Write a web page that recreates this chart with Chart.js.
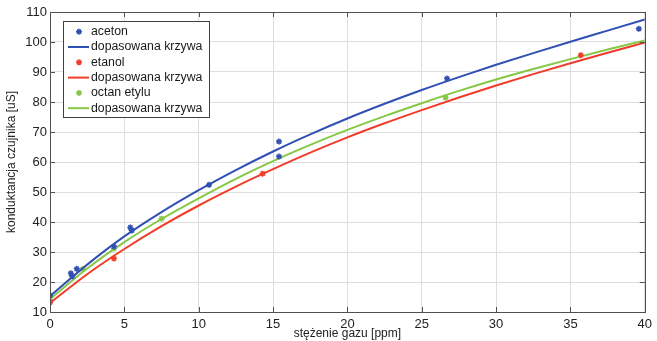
<!DOCTYPE html>
<html>
<head>
<meta charset="utf-8">
<script src="https://cdn.jsdelivr.net/npm/chart.js@4/dist/chart.umd.min.js"></script>
<style>
  body { margin: 0; background: #fff; }
  #wrap { width: 657px; height: 341px; }
</style>
</head>
<body>
<div id="wrap"><canvas id="myChart" width="657" height="341"></canvas></div>
<script>
// measured points
const acetonX = [0, 1.4, 1.5, 1.8, 4.3, 5.4, 5.5, 10.7, 15.4, 15.4, 26.7, 39.6];
const acetonY = [15.5, 22.9, 21.9, 24.4, 31.8, 38.2, 37.2, 52.4, 66.8, 61.8, 87.8, 104.4];
const etanolX = [0, 4.3, 14.3, 35.7];
const etanolY = [13.2, 27.8, 56.1, 95.6];
const octanX = [0, 2.2, 4.3, 7.5, 26.6];
const octanY = [14.0, 24.3, 31.2, 41.1, 81.5];

// fitted curves
const fitX = [0, 2.5, 5, 7.5, 10, 12.5, 15, 17.5, 20, 22.5, 25, 27.5, 30, 32.5, 35, 37.5, 40];
const fitAceton = [15.3, 25.8, 35.2, 43.3, 50.6, 57.3, 63.5, 69.2, 74.5, 79.4, 84.0, 88.3, 92.4, 96.3, 100.1, 103.8, 107.5];
const fitEtanol = [13.0, 22.6, 31.0, 38.6, 45.5, 51.8, 57.6, 63.1, 68.2, 72.9, 77.3, 81.5, 85.5, 89.3, 92.9, 96.4, 99.8];
const fitOctan = [14.3, 24.5, 33.3, 41.0, 47.9, 54.4, 60.3, 65.7, 70.7, 75.3, 79.6, 83.7, 87.5, 91.0, 94.3, 97.5, 100.5];

const labels = ['aceton', 'dopasowana krzywa', 'etanol', 'dopasowana krzywa', 'octan etylu', 'dopasowana krzywa'];
const xTicks = [0, 5, 10, 15, 20, 25, 30, 35, 40];
const yTicks = [10, 20, 30, 40, 50, 60, 70, 80, 90, 100, 110];

const BLUE = '#3150b4';
const RED = '#f03c2a';
const GREEN = '#86c846';

function pts(xs, ys) {
  return xs.map((x, i) => ({x: x, y: ys[i]}));
}

function markers(label, xs, ys, color) {
  return {
    label: label,
    data: pts(xs, ys),
    showLine: false,
    pointStyle: 'star',
    pointRadius: 3,
    pointBorderWidth: 1.5,
    borderColor: color,
    backgroundColor: color
  };
}

function curve(label, ys, color) {
  return {
    label: label,
    data: pts(fitX, ys),
    showLine: true,
    pointRadius: 0,
    borderWidth: 2,
    borderColor: color,
    backgroundColor: color,
    cubicInterpolationMode: 'monotone'
  };
}

// MATLAB style box with inward ticks + legend inside the axes
const boxPlugin = {
  id: 'box',
  afterDatasetsDraw(chart) {
    const ctx = chart.ctx;
    const a = chart.chartArea;
    const xs = chart.scales.x, ys = chart.scales.y;
    ctx.save();
    ctx.strokeStyle = '#505050';
    ctx.lineWidth = 1;
    ctx.strokeRect(Math.round(a.left) + 0.5, Math.round(a.top) + 0.5,
      Math.round(a.right - a.left), Math.round(a.bottom - a.top));
    ctx.beginPath();
    xTicks.forEach(v => {
      const p = Math.round(xs.getPixelForValue(v)) + 0.5;
      ctx.moveTo(p, a.bottom); ctx.lineTo(p, a.bottom - 5);
      ctx.moveTo(p, a.top); ctx.lineTo(p, a.top + 5);
    });
    yTicks.forEach(v => {
      const p = Math.round(ys.getPixelForValue(v)) + 0.5;
      ctx.moveTo(a.left, p); ctx.lineTo(a.left + 5, p);
      ctx.moveTo(a.right, p); ctx.lineTo(a.right - 5, p);
    });
    ctx.stroke();

    // legend
    const lx = 63.5, ly = 21.5, lw = 146, lh = 96;
    ctx.fillStyle = '#fff';
    ctx.fillRect(lx, ly, lw, lh);
    ctx.strokeStyle = '#404040';
    ctx.strokeRect(lx, ly, lw, lh);
    ctx.font = '12.3px "Liberation Sans", Arial, sans-serif';
    ctx.textBaseline = 'middle';
    chart.data.datasets.forEach((ds, i) => {
      const y = 31.7 + i * 15.3;
      ctx.strokeStyle = ds.borderColor;
      if (ds.showLine) {
        ctx.lineWidth = 2;
        ctx.beginPath();
        ctx.moveTo(68, y); ctx.lineTo(89, y);
        ctx.stroke();
      } else {
        ctx.lineWidth = 1.5;
        ctx.beginPath();
        const r = 3, d = r * 0.7;
        ctx.moveTo(79 - r, y); ctx.lineTo(79 + r, y);
        ctx.moveTo(79, y - r); ctx.lineTo(79, y + r);
        ctx.moveTo(79 - d, y - d); ctx.lineTo(79 + d, y + d);
        ctx.moveTo(79 - d, y + d); ctx.lineTo(79 + d, y - d);
        ctx.stroke();
      }
      ctx.fillStyle = '#1a1a1a';
      ctx.fillText(ds.label, 91, y);
    });
    ctx.restore();
  }
};

const tickFont = {family: '"Liberation Sans", Arial, sans-serif', size: 13};
const titleFont = {family: '"Liberation Sans", Arial, sans-serif', size: 12};

new Chart(document.getElementById('myChart').getContext('2d'), {
  type: 'scatter',
  data: {
    datasets: [
      markers(labels[0], acetonX, acetonY, BLUE),
      curve(labels[1], fitAceton, BLUE),
      markers(labels[2], etanolX, etanolY, RED),
      curve(labels[3], fitEtanol, RED),
      markers(labels[4], octanX, octanY, GREEN),
      curve(labels[5], fitOctan, GREEN)
    ]
  },
  options: {
    responsive: false,
    animation: false,
    layout: {padding: {top: 12, right: 12, left: 0, bottom: 0}},
    plugins: {legend: {display: false}, tooltip: {enabled: false}},
    scales: {
      x: {
        type: 'linear',
        min: 0, max: 40,
        afterBuildTicks: s => { s.ticks = xTicks.map(v => ({value: v})); },
        afterFit: s => { s.height = 29; },
        grid: {color: '#dedede', drawTicks: false},
        border: {display: false},
        ticks: {font: tickFont, color: '#222', padding: 5, maxRotation: 0},
        title: {display: true, text: 'stężenie gazu [ppm]', font: titleFont, color: '#222', padding: {top: 0, bottom: 0}}
      },
      y: {
        type: 'linear',
        min: 10, max: 110,
        afterBuildTicks: s => { s.ticks = yTicks.map(v => ({value: v})); },
        afterFit: s => { s.width = 50; },
        grid: {color: '#dedede', drawTicks: false},
        border: {display: false},
        ticks: {font: tickFont, color: '#222', padding: 3},
        title: {display: true, text: 'konduktancja czujnika [uS]', font: titleFont, color: '#222', padding: {top: 4, bottom: 0}}
      }
    }
  },
  plugins: [boxPlugin]
});
</script>
</body>
</html>
